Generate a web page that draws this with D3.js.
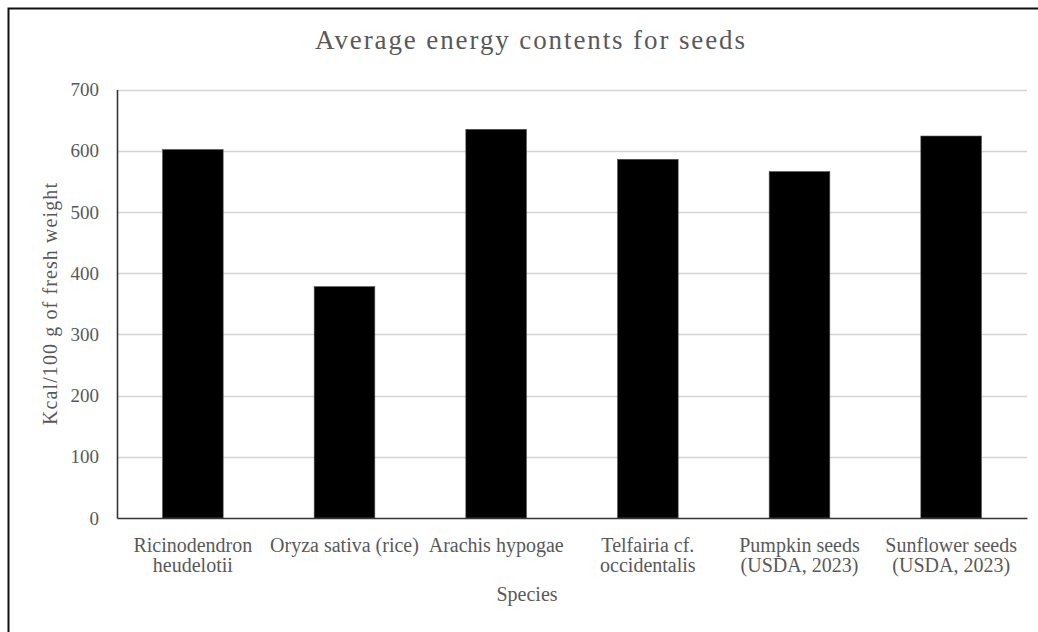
<!DOCTYPE html>
<html>
<head>
<meta charset="utf-8">
<script src="https://cdn.jsdelivr.net/npm/d3@7"></script>
<style>
  html, body { margin: 0; padding: 0; background: #fff; }
  svg text { font-family: "Liberation Serif", "Times New Roman", serif; fill: #595959; }
</style>
</head>
<body>
<svg id="chart" width="1038" height="632"></svg>
<script>
// Average energy content per species (kcal / 100 g fresh weight)
const species = [
  ["Ricinodendron", "heudelotii"],
  ["Oryza sativa (rice)"],
  ["Arachis hypogae"],
  ["Telfairia cf.", "occidentalis"],
  ["Pumpkin seeds", "(USDA, 2023)"],
  ["Sunflower seeds", "(USDA, 2023)"]
];
const energy = [602, 378, 635, 586, 566, 624];
const yTicks = [0, 100, 200, 300, 400, 500, 600, 700];

const titleText = "Average energy contents for seeds";
const yTitle = "Kcal/100  g of fresh weight";
const xTitle = "Species";

const svg = d3.select("#chart");
const W = 1038, H = 632;
const plot = { left: 117, right: 1027, top: 89.5, bottom: 518 };
const serif = "\"Liberation Serif\", \"Times New Roman\", serif";

svg.append("rect").attr("width", W).attr("height", H).attr("fill", "#fff");

// outer chart frame
svg.append("rect")
  .attr("x", 8.5).attr("y", 8.5)
  .attr("width", 1060).attr("height", 660)
  .attr("fill", "none").attr("stroke", "#111").attr("stroke-width", 2);

const x = d3.scaleBand()
  .domain(d3.range(species.length))
  .range([plot.left, plot.right])
  .paddingInner(0.6)
  .paddingOuter(0.3);

const y = d3.scaleLinear().domain([0, 700]).range([plot.bottom, plot.top]);

// horizontal gridlines
svg.append("g")
  .selectAll("line")
  .data(yTicks.filter(d => d > 0))
  .join("line")
  .attr("x1", plot.left).attr("x2", plot.right)
  .attr("y1", d => Math.round(y(d)) + 0.5).attr("y2", d => Math.round(y(d)) + 0.5)
  .attr("stroke", "#d4d4d4").attr("stroke-width", 1.3);

// bars
svg.append("g")
  .selectAll("rect")
  .data(energy)
  .join("rect")
  .attr("x", (d, i) => x(i))
  .attr("width", x.bandwidth())
  .attr("y", d => y(d))
  .attr("height", d => y(0) - y(d))
  .attr("fill", "#000")
  .attr("stroke", "#555").attr("stroke-width", 0.6);

// y axis
const yAxis = svg.append("g")
  .attr("transform", `translate(${plot.left},0)`)
  .call(d3.axisLeft(y).tickValues(yTicks).tickSize(0).tickPadding(18))
  .attr("font-family", serif);
yAxis.select(".domain").attr("stroke", "#333").attr("stroke-width", 1.6);
yAxis.selectAll("text")
  .style("font-size", "19px")
  .style("font-family", serif)
  .attr("fill", "#595959");

// x axis
const xAxis = svg.append("g")
  .attr("transform", `translate(0,${plot.bottom})`)
  .call(d3.axisBottom(x).tickSize(0).tickFormat(""))
  .attr("font-family", serif);
xAxis.select(".domain").attr("stroke", "#333").attr("stroke-width", 1.6);
xAxis.selectAll(".tick text").remove();
xAxis.selectAll(".tick")
  .append("text")
  .attr("text-anchor", "middle")
  .style("font-size", "20px")
  .style("font-family", serif)
  .attr("fill", "#595959")
  .selectAll("tspan")
  .data(i => species[i])
  .join("tspan")
  .attr("x", 0)
  .attr("y", (d, j) => 34 + j * 20)
  .text(d => d);

// chart title
svg.append("text")
  .attr("x", 530).attr("y", 49)
  .attr("text-anchor", "middle")
  .attr("textLength", 430).attr("lengthAdjust", "spacing")
  .style("font-size", "27px")
  .text(titleText);

// axis titles
svg.append("text")
  .attr("transform", "translate(57,304) rotate(-90)")
  .attr("text-anchor", "middle")
  .attr("textLength", 242).attr("lengthAdjust", "spacing")
  .style("font-size", "20px")
  .text(yTitle);

svg.append("text")
  .attr("x", 527).attr("y", 601)
  .attr("text-anchor", "middle")
  .style("font-size", "20px")
  .text(xTitle);
</script>
</body>
</html>
